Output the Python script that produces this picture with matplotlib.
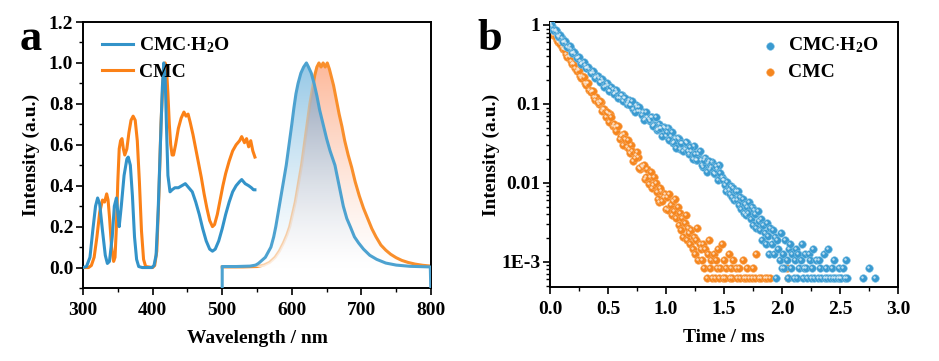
import numpy as np
import matplotlib
matplotlib.use('Agg')
import matplotlib.pyplot as plt
from matplotlib.ticker import MultipleLocator, LogLocator, NullFormatter, FixedLocator, FixedFormatter
from matplotlib.patches import PathPatch
import matplotlib.transforms as mtransforms

plt.rcParams['font.family'] = ['Liberation Serif', 'DejaVu Serif']
plt.rcParams['font.weight'] = 'bold'
plt.rcParams['mathtext.fontset'] = 'custom'
plt.rcParams['mathtext.rm'] = 'Liberation Serif:bold'
plt.rcParams['mathtext.bf'] = 'Liberation Serif:bold'
plt.rcParams['mathtext.it'] = 'Liberation Serif:bold:italic'

# ---------------- data: panel a ----------------
ex_wl_h2o = [300, 305, 310, 314, 318, 321, 324, 328, 332, 335, 338, 342, 345, 348, 350,
             352, 355, 359, 363, 365, 368, 371, 374, 377, 380, 385, 399, 402, 405, 408,
             411, 414, 416, 418, 420, 422, 425, 428, 432, 437, 442, 447, 452, 457, 462,
             467, 472, 477, 482, 486, 490, 495, 500, 505, 510, 515, 520, 525, 528, 533,
             538, 542, 545, 547]
ex_int_h2o = [0.0, 0.005, 0.05, 0.18, 0.30, 0.34, 0.31, 0.18, 0.06, 0.02, 0.03, 0.15, 0.30, 0.34, 0.27,
              0.20, 0.30, 0.45, 0.53, 0.54, 0.50, 0.35, 0.15, 0.04, 0.005, 0.0, 0.0, 0.01, 0.06, 0.28,
              0.58, 0.88, 1.0, 0.93, 0.68, 0.45, 0.37, 0.38, 0.39, 0.39, 0.40, 0.41, 0.39, 0.37, 0.32,
              0.26, 0.19, 0.13, 0.09, 0.08, 0.09, 0.13, 0.19, 0.26, 0.32, 0.37, 0.40, 0.42, 0.43, 0.41,
              0.40, 0.39, 0.38, 0.38]

ex_wl_cmc = [300, 308, 312, 316, 320, 324, 328, 331, 334, 336, 338, 341, 344, 346, 348,
             350, 352, 354, 356, 358, 360, 363, 366, 369, 372, 375, 378, 381, 384, 387,
             390, 400, 403, 406, 409, 412, 415, 418, 420, 422, 424, 426, 428, 430, 433,
             437, 441, 445, 448, 451, 454, 458, 462, 466, 470, 474, 478, 482, 486, 489,
             493, 497, 501, 505, 510, 515, 520, 525, 528, 532, 535, 538, 541, 544, 547]
ex_int_cmc = [0, 0, 0.01, 0.05, 0.15, 0.27, 0.33, 0.32, 0.36, 0.33, 0.25, 0.10, 0.03, 0.05, 0.20,
              0.42, 0.58, 0.62, 0.63, 0.58, 0.55, 0.58, 0.66, 0.72, 0.74, 0.72, 0.62, 0.42, 0.18, 0.04,
              0.005, 0.0, 0.01, 0.08, 0.35, 0.70, 0.92, 1.0, 0.97, 0.85, 0.70, 0.60, 0.55, 0.55, 0.60,
              0.68, 0.73, 0.76, 0.74, 0.75, 0.71, 0.65, 0.58, 0.51, 0.44, 0.36, 0.29, 0.23, 0.20, 0.21,
              0.26, 0.33, 0.40, 0.46, 0.52, 0.57, 0.60, 0.62, 0.64, 0.61, 0.63, 0.59, 0.62, 0.57, 0.54]

em_wl_h2o = [500, 500, 520, 540, 548, 552, 557, 562, 566, 570, 574, 577, 580, 582, 587,
             592, 596, 600, 603, 606, 609, 613, 617, 621, 624, 628, 632, 636, 640, 645,
             650, 655, 662, 668, 674, 679, 684, 690, 696, 703, 712, 722, 735, 750, 770,
             799, 800]
em_int_h2o = [-0.15, 0.005, 0.005, 0.007, 0.012, 0.02, 0.035, 0.05, 0.075, 0.10, 0.15, 0.20, 0.26, 0.30, 0.40,
              0.50, 0.60, 0.70, 0.78, 0.85, 0.90, 0.95, 0.98, 1.0, 0.98, 0.95, 0.90, 0.84, 0.77, 0.70,
              0.63, 0.57, 0.50, 0.40, 0.30, 0.24, 0.20, 0.15, 0.12, 0.09, 0.06, 0.04, 0.022, 0.012, 0.006,
              0.003, -0.15]

em_wl_cmc = [500, 530, 550, 560, 568, 576, 582, 588, 593, 597, 601, 605, 609, 614, 618,
             622, 626, 630, 633, 636, 639, 642, 645, 648, 651, 654, 657, 660, 664, 668,
             672, 676, 681, 686, 691, 697, 703, 709, 715, 721, 728, 735, 742, 750, 758,
             767, 777, 788, 800]
em_int_cmc = [0.003, 0.003, 0.005, 0.012, 0.025, 0.05, 0.08, 0.12, 0.16, 0.20, 0.26, 0.32, 0.40, 0.50, 0.60,
              0.70, 0.80, 0.88, 0.94, 0.98, 1.0, 0.98, 1.0, 0.98, 1.0, 0.97, 0.93, 0.89, 0.82, 0.75,
              0.69, 0.62, 0.55, 0.49, 0.42, 0.35, 0.29, 0.24, 0.19, 0.15, 0.11, 0.085, 0.065, 0.048, 0.035,
              0.025, 0.017, 0.011, 0.007]

# ---------------- data: panel b (decay) ----------------
h2o_t_early = np.round(np.arange(0.0, 1.501, 0.02), 2)
h2o_log_early = [0.02, -0.01, -0.07, -0.09, -0.15, -0.16, -0.22, -0.23, -0.29, -0.30,
                 -0.36, -0.37, -0.42, -0.45, -0.48, -0.51, -0.54, -0.56, -0.61, -0.61,
                 -0.66, -0.67, -0.72, -0.71, -0.77, -0.76, -0.83, -0.81, -0.86, -0.85,
                 -0.92, -0.89, -0.93, -1.00, -0.95, -1.01, -1.07, -1.01, -1.09, -1.09,
                 -1.10, -1.19, -1.16, -1.21, -1.16, -1.27, -1.33, -1.26, -1.31, -1.29,
                 -1.40, -1.30, -1.41, -1.49, -1.43, -1.43, -1.57, -1.50, -1.57, -1.49,
                 -1.63, -1.60, -1.53, -1.71, -1.64, -1.71, -1.80, -1.68, -1.75, -1.82,
                 -1.73, -1.89, -1.82, -1.77, -1.92, -1.96]
h2o_t_early2 = np.round(np.arange(0.01, 1.495, 0.02), 2)
h2o_log_early2 = [0.01, -0.06, -0.06, -0.14, -0.13, -0.21, -0.20, -0.28, -0.27, -0.35,
                  -0.34, -0.42, -0.40, -0.49, -0.47, -0.55, -0.53, -0.61, -0.58, -0.67,
                  -0.64, -0.72, -0.69, -0.78, -0.74, -0.83, -0.78, -0.88, -0.82, -0.92,
                  -0.89, -0.96, -0.92, -0.97, -1.01, -0.96, -1.10, -1.04, -1.04, -1.14,
                  -1.20, -1.10, -1.19, -1.17, -1.28, -1.17, -1.32, -1.31, -1.41, -1.31,
                  -1.36, -1.46, -1.36, -1.48, -1.56, -1.45, -1.50, -1.60, -1.48, -1.60,
                  -1.55, -1.70, -1.63, -1.71, -1.60, -1.77, -1.71, -1.86, -1.72, -1.80,
                  -1.88, -1.78, -1.96, -1.87, -1.96]
h2o_t_tail = np.round(np.arange(1.51, 2.565, 0.01), 2)
h2o_tail_e4 = [95, 78, 104, 82, 72, 90, 66, 85, 61, 78,
               60, 78, 52, 66, 47, 62, 42, 54, 39, 50,
               42, 58, 35, 50, 29, 46, 40, 27, 44, 33,
               25, 35, 19, 29, 23, 17, 31, 21, 12.5, 27,
               16.6, 25, 12.5, 20.8, 6.2, 18.7, 14.6, 10.4, 22.9, 8.3,
               12.5, 8.3, 18.7, 10.4, 6.2, 14.6, 16.6, 8.3, 12.5, 6.2,
               10.4, 14.6, 6.2, 12.5, 8.3, 10.4, 16.6, 6.2, 8.3, 12.5,
               8.3, 6.2, 12.5, 10.4, 6.2, 8.3, 14.6, 6.2, 10.4, 4.2,
               6.2, 10.4, 8.3, 6.2, 4.2, 12.5, 6.2, 8.3, 6.2, 14.6,
               6.2, 4.2, 8.3, 6.2, 10.4, 6.2, 4.2, 6.2, 8.3, 6.2,
               6.2, 4.2, 8.3, 6.2, 10.4, 6.2]
h2o_t_late = [2.70, 2.75, 2.80]
h2o_late_e4 = [6.2, 8.3, 6.2]

cmc_t_early = np.round(np.arange(0.0, 1.001, 0.02), 2)
cmc_log_early = [-0.04, -0.10, -0.13, -0.19, -0.22, -0.28, -0.30, -0.37, -0.39, -0.46,
                 -0.48, -0.55, -0.56, -0.64, -0.65, -0.73, -0.74, -0.82, -0.83, -0.91,
                 -0.91, -1.00, -0.98, -1.06, -1.16, -1.12, -1.13, -1.28, -1.29, -1.28,
                 -1.44, -1.39, -1.38, -1.55, -1.57, -1.52, -1.72, -1.65, -1.67, -1.83,
                 -1.80, -1.95, -1.82, -1.92, -2.06, -1.92, -2.11, -2.24, -2.10, -2.18,
                 -2.33]
cmc_t_early2 = np.round(np.arange(0.01, 0.995, 0.02), 2)
cmc_log_early2 = [-0.06, -0.13, -0.15, -0.22, -0.24, -0.31, -0.32, -0.40, -0.41, -0.49,
                  -0.49, -0.58, -0.57, -0.67, -0.66, -0.76, -0.74, -0.85, -0.83, -0.95,
                  -0.97, -0.96, -1.09, -1.07, -1.10, -1.23, -1.17, -1.26, -1.34, -1.28,
                  -1.41, -1.52, -1.44, -1.46, -1.62, -1.59, -1.69, -1.61, -1.81, -1.78,
                  -1.77, -1.92, -2.01, -1.86, -2.03, -2.00, -2.21, -2.07, -2.23, -2.14]
cmc_t_tail = np.round(np.arange(1.01, 1.905, 0.01), 2)
cmc_tail_e4 = [66.6, 45.8, 72.8, 52.0, 39.5, 58.2, 43.7, 62.4, 35.4, 49.9,
               29.1, 41.6, 25.0, 35.4, 20.8, 31.2, 39.5, 18.7, 27.0, 22.9,
               16.6, 25.0, 14.6, 20.8, 12.5, 18.7, 27.0, 10.4, 16.6, 14.6,
               10.4, 16.6, 8.3, 14.6, 6.2, 12.5, 18.7, 8.3, 10.4, 6.2,
               12.5, 6.2, 10.4, 8.3, 14.6, 6.2, 8.3, 16.6, 6.2, 10.4,
               6.2, 8.3, 4.2, 12.5, 6.2, 8.3, 6.2, 10.4, 4.2, 8.3,
               6.2, 4.2, 8.3, 6.2, 4.2, 10.4, 6.2, 4.2, 6.2, 8.3,
               4.2, 6.2, 4.2, 6.2, 8.3, 4.2, 6.2, 12.5, 4.2, 6.2,
               4.2, 6.2, 4.2, 4.2, 6.2, 4.2, 6.2, 4.2, 4.2, 6.2]
cmc_t_late = [2.04, 2.05]
cmc_late_e4 = [8.3, 6.2]

label_h2o = 'CMC$\\cdot$H$_2$O'
label_cmc = 'CMC'

# ---------------- styles ----------------
BLUE = '#3393c9'
ORANGE = '#fb8117'
BLUE_EM = '#4da2d0'
ORANGE_EM = '#f98f2c'
FS = 14

fig = plt.figure(figsize=(9.39, 3.61), dpi=100)
axa = fig.add_axes([0.0884, 0.2022, 0.3706, 0.7368])
axb = fig.add_axes([0.5857, 0.2050, 0.3706, 0.7340])


def gradient_fill(ax, x, y, top_rgb, zorder, alpha=1.0, power=1.3):
    x = np.asarray(x, float)
    y = np.clip(np.asarray(y, float), 0, None)
    verts = np.vstack([np.column_stack([x, y]), [[x[-1], 0], [x[0], 0]]])
    path = matplotlib.path.Path(verts, closed=True)
    patch = PathPatch(path, transform=ax.transData, facecolor='none', edgecolor='none')
    ax.add_patch(patch)
    f = np.linspace(0, 1, 256)[:, None] ** power
    top = np.array(top_rgb) / 255.0
    img = np.ones((256, 2, 3))
    for k in range(3):
        img[:, :, k] = (1 - f) + f * top[k]
    im = ax.imshow(img, extent=[x.min(), x.max(), 0, 1.0], origin='lower',
                   aspect='auto', zorder=zorder, alpha=alpha, interpolation='bilinear')
    im.set_clip_path(patch)


# ---------------- panel a ----------------
ax = axa
xb = np.array(em_wl_h2o, float)
yb = np.array(em_int_h2o, float)
xo = np.array(em_wl_cmc, float)
yo = np.array(em_int_cmc, float)
grid = np.linspace(500, 800, 601)
b_on = np.interp(grid, xb[1:-1], yb[1:-1])
o_on = np.interp(grid, xo, yo)
inter = np.minimum(b_on, o_on)

blue_top = (150, 200, 230)
orange_top = (253, 185, 155)
gray_top = (140, 144, 166)

gradient_fill(ax, xo, yo, orange_top, 1.0)
gradient_fill(ax, xb[1:-1], yb[1:-1], blue_top, 1.1)
gradient_fill(ax, grid, inter, gray_top, 1.2)
ax.plot(xo, yo, color=ORANGE_EM, lw=2.2, zorder=2, solid_joinstyle='round')
gradient_fill(ax, xb[1:-1], yb[1:-1], blue_top, 2.5, alpha=0.6)
gradient_fill(ax, grid, inter, gray_top, 2.6, alpha=0.6)
ax.plot(xb, yb, color=BLUE_EM, lw=2.2, zorder=3, solid_joinstyle='round')

ax.plot(ex_wl_cmc, ex_int_cmc, color=ORANGE, lw=2.2, zorder=3, label=label_cmc)
ax.plot(ex_wl_h2o, ex_int_h2o, color=BLUE, lw=2.2, zorder=3.1, label=label_h2o)

ax.set_xlim(300, 800)
ax.set_ylim(-0.1, 1.2)
ax.xaxis.set_major_locator(MultipleLocator(100))
ax.xaxis.set_minor_locator(MultipleLocator(50))
ax.yaxis.set_major_locator(MultipleLocator(0.2))
ax.yaxis.set_minor_locator(MultipleLocator(0.1))
ax.yaxis.set_major_formatter(matplotlib.ticker.FormatStrFormatter('%.1f'))
ax.set_xlabel('Wavelength / nm', fontsize=FS, fontweight='bold', labelpad=8)
ax.set_ylabel('Intensity (a.u.)', fontsize=FS, fontweight='bold', labelpad=6)
h, l = ax.get_legend_handles_labels()
ax.legend(h[::-1], l[::-1], loc='upper left', bbox_to_anchor=(0.015, 1.0), frameon=False,
          fontsize=FS, handlelength=1.6, handletextpad=0.3, labelspacing=0.4, borderaxespad=0.3)

# ---------------- panel b ----------------
ax = axb
hl = mtransforms.offset_copy(ax.transData, fig=fig, x=-1.0, y=1.0, units='dots')

cmc_t = np.concatenate([cmc_t_early, cmc_t_early2, cmc_t_tail, cmc_t_late])
cmc_I = np.concatenate([10 ** np.array(cmc_log_early), 10 ** np.array(cmc_log_early2),
                        np.array(cmc_tail_e4) * 1e-4, np.array(cmc_late_e4) * 1e-4])
h2o_t = np.concatenate([h2o_t_early, h2o_t_early2, h2o_t_tail, h2o_t_late])
h2o_I = np.concatenate([10 ** np.array(h2o_log_early), 10 ** np.array(h2o_log_early2),
                        np.array(h2o_tail_e4) * 1e-4, np.array(h2o_late_e4) * 1e-4])

MS = 30
ax.scatter(cmc_t, cmc_I, s=MS, color='#f5861f', edgecolors='#f9a85c', linewidths=0.4,
           zorder=2, label=label_cmc)
ax.scatter(cmc_t, cmc_I, s=3, color='white', alpha=0.7, linewidths=0, zorder=2.1, transform=hl)
ax.scatter(h2o_t, h2o_I, s=MS, color='#3a9ad0', edgecolors='#7cc0e4', linewidths=0.4,
           zorder=3, label=label_h2o)
ax.scatter(h2o_t, h2o_I, s=3, color='white', alpha=0.7, linewidths=0, zorder=3.1, transform=hl)

ax.set_yscale('log')
ax.set_xlim(0, 3.0)
ax.set_ylim(4.8e-4, 1.09)
ax.xaxis.set_major_locator(MultipleLocator(0.5))
ax.xaxis.set_minor_locator(MultipleLocator(0.25))
ax.xaxis.set_major_formatter(matplotlib.ticker.FormatStrFormatter('%.1f'))
ax.yaxis.set_major_locator(FixedLocator([1e-3, 1e-2, 1e-1, 1]))
ax.yaxis.set_major_formatter(FixedFormatter(['1E-3', '0.01', '0.1', '1']))
ax.yaxis.set_minor_locator(LogLocator(base=10, subs=np.arange(2, 10), numticks=20))
ax.yaxis.set_minor_formatter(NullFormatter())
ax.set_xlabel('Time / ms', fontsize=FS, fontweight='bold', labelpad=8)
ax.set_ylabel('Intensity (a.u.)', fontsize=FS, fontweight='bold', labelpad=1)
h, l = ax.get_legend_handles_labels()
ax.legend(h[::-1], l[::-1], loc='upper right', bbox_to_anchor=(0.985, 1.0), frameon=False,
          fontsize=FS, handlelength=1.0, handletextpad=0.45, labelspacing=0.4, borderaxespad=0.3,
          scatterpoints=1)

for a in (axa, axb):
    for sp in a.spines.values():
        sp.set_linewidth(1.4)
    a.tick_params(which='major', direction='out', length=5, width=1.2, labelsize=FS, pad=2,
                  top=False, right=False)
    a.tick_params(which='minor', direction='out', length=3, width=1.0, top=False, right=False)
    a.tick_params(axis='x', which='major', pad=5)
    for t in a.get_xticklabels() + a.get_yticklabels():
        t.set_fontweight('bold')

fig.text(20 / 939, 1 - 50 / 361, 'a', fontsize=32, fontweight='bold', va='baseline')
fig.text(477 / 939, 1 - 50 / 361, 'b', fontsize=32, fontweight='bold', va='baseline')

fig.savefig('out.png', dpi=100)
